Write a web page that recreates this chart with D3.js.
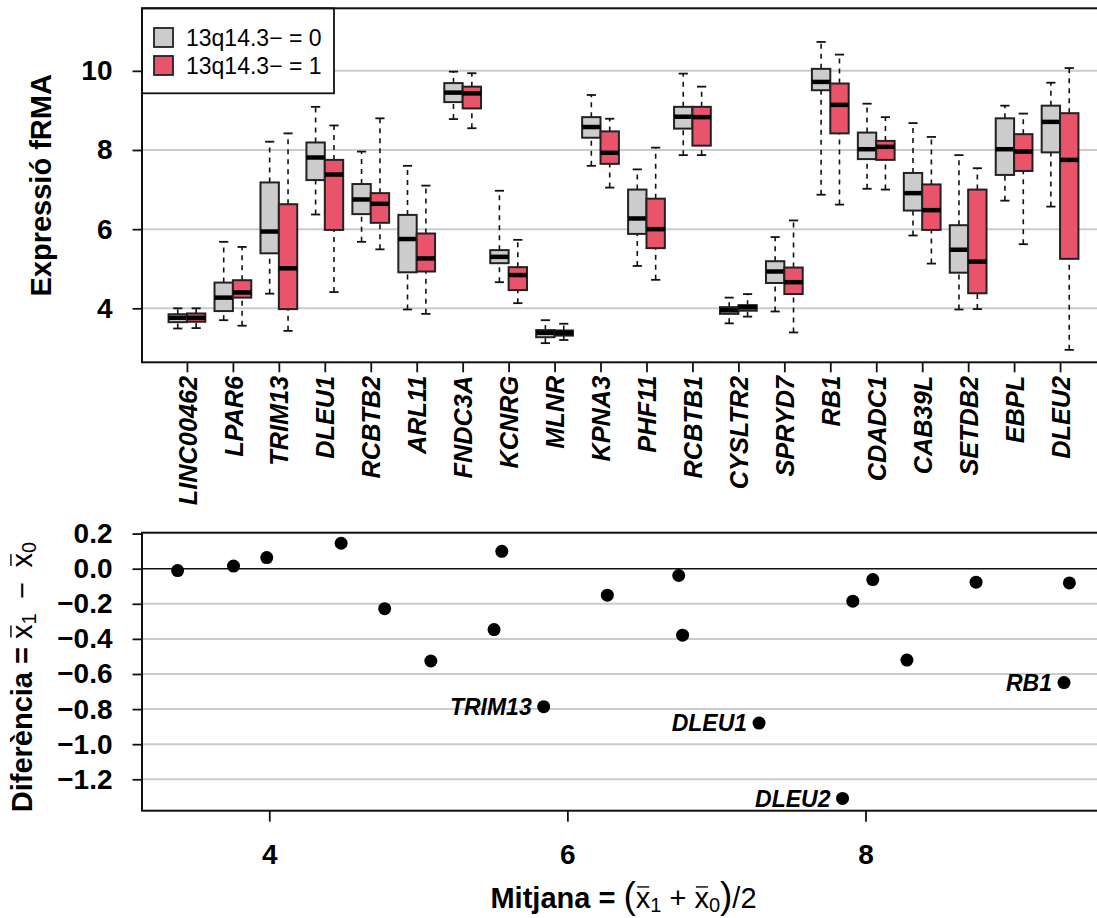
<!DOCTYPE html>
<html>
<head>
<meta charset="utf-8">
<script src="https://cdn.jsdelivr.net/npm/d3@7"></script>
<style>
  body { margin: 0; background: #fff; }
  svg { display: block; font-family: "Liberation Sans", Arial, Helvetica, sans-serif; }
</style>
</head>
<body>
<svg class="chart"></svg>
<script>
// Chart size matches the browser window
const width = 1097;
const height = 918;

// Genes in plotting order
const genes = ["LINC00462", "LPAR6", "TRIM13", "DLEU1", "RCBTB2", "ARL11", "FNDC3A", "KCNRG", "MLNR", "KPNA3",
  "PHF11", "RCBTB1", "CYSLTR2", "SPRYD7", "RB1", "CDADC1", "CAB39L", "SETDB2", "EBPL", "DLEU2"];

// Box stats per gene: [lower whisker, q1, median, q3, upper whisker]
const stats0 = [
  [3.49, 3.65, 3.76, 3.85, 4.00], [3.70, 3.93, 4.27, 4.65, 5.68], [4.37, 5.39, 5.94, 7.18, 8.21],
  [6.37, 7.24, 7.81, 8.19, 9.09], [5.68, 6.38, 6.75, 7.14, 7.96], [3.97, 4.91, 5.75, 6.36, 7.60],
  [8.78, 9.21, 9.45, 9.69, 9.98], [4.66, 5.14, 5.30, 5.47, 6.97], [3.12, 3.27, 3.38, 3.45, 3.70],
  [7.60, 8.31, 8.58, 8.83, 9.39], [5.07, 5.88, 6.27, 7.00, 7.51], [7.87, 8.54, 8.84, 9.09, 9.93],
  [3.62, 3.86, 3.95, 4.03, 4.27], [3.92, 4.64, 4.93, 5.19, 5.80], [6.87, 9.51, 9.72, 10.05, 10.73],
  [7.02, 7.77, 8.02, 8.44, 9.17], [5.84, 6.47, 6.91, 7.42, 8.68], [3.97, 4.90, 5.48, 6.10, 7.87],
  [6.72, 7.37, 8.02, 8.80, 9.12], [6.57, 7.94, 8.71, 9.12, 9.70]
];
const stats1 = [
  [3.50, 3.66, 3.76, 3.87, 4.00], [3.56, 4.27, 4.40, 4.71, 5.55], [3.43, 3.98, 5.01, 6.63, 8.42],
  [4.41, 5.98, 7.38, 7.75, 8.62], [5.49, 6.16, 6.64, 6.91, 8.80], [3.86, 4.93, 5.26, 5.89, 7.10],
  [8.55, 9.05, 9.43, 9.60, 9.94], [4.13, 4.46, 4.84, 5.04, 5.73], [3.20, 3.31, 3.38, 3.44, 3.61],
  [7.05, 7.65, 7.93, 8.47, 8.79], [4.72, 5.52, 6.00, 6.77, 8.06], [7.87, 8.11, 8.83, 9.09, 9.60],
  [3.79, 3.94, 4.03, 4.08, 4.36], [3.39, 4.36, 4.66, 5.03, 6.22], [6.62, 8.42, 9.14, 9.68, 10.41],
  [7.00, 7.75, 8.08, 8.23, 8.83], [5.13, 5.98, 6.48, 7.13, 8.33], [3.98, 4.38, 5.18, 7.00, 7.54],
  [5.62, 7.47, 7.96, 8.40, 8.92], [2.95, 5.25, 7.75, 8.93, 10.07]
];

// Legend
const groupLabels = ["13q14.3\u2212 = 0", "13q14.3\u2212 = 1"];
const groupColors = ["#cccccc", "#e9546b"];

// Mean-difference panel, same gene order
const meanVals = [3.760, 4.482, 5.841, 7.286, 6.747, 5.560, 9.368, 5.084, 3.385, 8.278,
  6.268, 8.742, 3.983, 4.774, 9.332, 8.049, 6.773, 5.508, 7.915, 7.846];
const diffVals = [0.015, 0.145, -0.786, -0.880, -0.039, 0.099, -0.081, -0.526, -0.011, -0.521,
  -0.151, -0.077, 0.063, -0.228, -0.649, -0.062, -0.379, -0.347, -0.185, -1.309];
const labelledGenes = ["TRIM13", "DLEU1", "RB1", "DLEU2"];

// Ticks
const topYTicks = [4, 6, 8, 10];
const botYTicks = [0.2, 0, -0.2, -0.4, -0.6, -0.8, -1.0, -1.2];
const botXTicks = [4, 6, 8];

// Panel boxes (right edge runs past the picture, as in the original)
const boxPanel = { left: 142, right: 1105, top: 8.3, bottom: 362.3 };
const mdPanel = { left: 142, right: 1105, top: 532.7, bottom: 810.7 };

const tickFont = 28;
const titleFont = 29;
const geneFont = 25.3;
const labelFont = 23;

const svg = d3.select(".chart")
  .attr("width", width)
  .attr("height", height);

// Scales
const xGene = d3.scaleLinear().domain([0.022, 20.978]).range([boxPanel.left, boxPanel.right]);
const yTop = d3.scaleLinear().domain([2.636, 11.58]).range([boxPanel.bottom, boxPanel.top]);
const xMean = d3.scaleLinear().domain([3.146, 9.607]).range([mdPanel.left, mdPanel.right]);
const yDiff = d3.scaleLinear().domain([-1.379, 0.205]).range([mdPanel.bottom, mdPanel.top]);

// ---------- Top panel: boxplots ----------
const gTop = svg.append("g");

// grid lines
gTop.selectAll(".grid").data(topYTicks).enter().append("line")
  .attr("x1", boxPanel.left).attr("x2", boxPanel.right)
  .attr("y1", d => yTop(d)).attr("y2", d => yTop(d))
  .attr("stroke", "#cccccc").attr("stroke-width", 2);

function drawBoxes(stats, groupIndex) {
  const offset = groupIndex === 0 ? -0.2 : 0.2;
  const halfW = xGene(0.2) - xGene(0);
  const boxes = gTop.selectAll(".box" + groupIndex)
    .data(stats)
    .enter().append("g");

  boxes.each(function (s, i) {
    const g = d3.select(this);
    const cx = xGene(i + 1 + offset);
    // dashed whiskers
    g.append("line").attr("x1", cx).attr("x2", cx).attr("y1", yTop(s[0])).attr("y2", yTop(s[1]))
      .attr("stroke", "#111").attr("stroke-width", 1.6).attr("stroke-dasharray", "5,5");
    g.append("line").attr("x1", cx).attr("x2", cx).attr("y1", yTop(s[3])).attr("y2", yTop(s[4]))
      .attr("stroke", "#111").attr("stroke-width", 1.6).attr("stroke-dasharray", "5,5");
    // staples
    [s[0], s[4]].forEach(v => {
      g.append("line").attr("x1", cx - halfW / 2).attr("x2", cx + halfW / 2)
        .attr("y1", yTop(v)).attr("y2", yTop(v))
        .attr("stroke", "#111").attr("stroke-width", 1.8);
    });
    // box
    g.append("rect")
      .attr("x", cx - halfW).attr("width", halfW * 2)
      .attr("y", yTop(s[3])).attr("height", yTop(s[1]) - yTop(s[3]))
      .attr("fill", groupColors[groupIndex])
      .attr("stroke", "#222").attr("stroke-width", 2);
    // median
    g.append("line").attr("x1", cx - halfW).attr("x2", cx + halfW)
      .attr("y1", yTop(s[2])).attr("y2", yTop(s[2]))
      .attr("stroke", "#000").attr("stroke-width", 4.5);
  });
}
drawBoxes(stats0, 0);
drawBoxes(stats1, 1);

// y axis
const yAxisTop = gTop.append("g")
  .attr("transform", `translate(${boxPanel.left},0)`)
  .call(d3.axisLeft(yTop).tickValues(topYTicks).tickSize(9.5).tickPadding(20).tickFormat(d3.format("d")));

// x axis with gene names
const xAxisTop = gTop.append("g")
  .attr("transform", `translate(0,${boxPanel.bottom})`)
  .call(d3.axisBottom(xGene).tickValues(d3.range(1, genes.length + 1)).tickSize(10).tickFormat(d => genes[d - 1]));

// legend
const legend = gTop.append("g");
legend.append("rect")
  .attr("x", boxPanel.left).attr("y", boxPanel.top)
  .attr("width", 192).attr("height", 85)
  .attr("fill", "#fff").attr("stroke", "#111").attr("stroke-width", 1.8);
groupLabels.forEach((lab, i) => {
  legend.append("rect")
    .attr("x", 154).attr("y", 28 + i * 28).attr("width", 19).attr("height", 19)
    .attr("fill", groupColors[i]).attr("stroke", "#222").attr("stroke-width", 1.8);
  legend.append("text")
    .attr("x", 186).attr("y", 37.5 + i * 28).attr("dy", "0.36em")
    .attr("font-size", labelFont)
    .text(lab);
});

// frame
gTop.append("rect")
  .attr("x", boxPanel.left).attr("y", boxPanel.top)
  .attr("width", boxPanel.right - boxPanel.left).attr("height", boxPanel.bottom - boxPanel.top)
  .attr("fill", "none").attr("stroke", "#111").attr("stroke-width", 2);

// y title
gTop.append("text")
  .attr("transform", `translate(51,${(boxPanel.top + boxPanel.bottom) / 2}) rotate(-90)`)
  .attr("text-anchor", "middle")
  .attr("font-size", titleFont).attr("font-weight", "bold")
  .text("Expressió fRMA");

// ---------- Bottom panel: mean-difference ----------
const gBot = svg.append("g");

gBot.selectAll(".grid").data(botYTicks.filter(d => d < 0)).enter().append("line")
  .attr("x1", mdPanel.left).attr("x2", mdPanel.right)
  .attr("y1", d => yDiff(d)).attr("y2", d => yDiff(d))
  .attr("stroke", "#cccccc").attr("stroke-width", 2);

gBot.append("line")
  .attr("x1", mdPanel.left).attr("x2", mdPanel.right)
  .attr("y1", yDiff(0)).attr("y2", yDiff(0))
  .attr("stroke", "#111").attr("stroke-width", 1.6);

gBot.selectAll("circle").data(genes).enter().append("circle")
  .attr("cx", (d, i) => xMean(meanVals[i]))
  .attr("cy", (d, i) => yDiff(diffVals[i]))
  .attr("r", 6.5)
  .attr("fill", "#000");

genes.forEach((g, i) => {
  if (!labelledGenes.includes(g)) return;
  gBot.append("text")
    .attr("x", xMean(meanVals[i]) - 12)
    .attr("y", yDiff(diffVals[i]))
    .attr("dy", "0.36em")
    .attr("text-anchor", "end")
    .attr("font-size", labelFont).attr("font-weight", "bold").attr("font-style", "italic")
    .text(g);
});

const yAxisBot = gBot.append("g")
  .attr("transform", `translate(${mdPanel.left},0)`)
  .call(d3.axisLeft(yDiff).tickValues(botYTicks).tickSize(9.5).tickPadding(20).tickFormat(d3.format(".1f")));

const xAxisBot = gBot.append("g")
  .attr("transform", `translate(0,${mdPanel.bottom})`)
  .call(d3.axisBottom(xMean).tickValues(botXTicks).tickSize(11).tickPadding(22).tickFormat(d3.format("d")));

gBot.append("rect")
  .attr("x", mdPanel.left).attr("y", mdPanel.top)
  .attr("width", mdPanel.right - mdPanel.left).attr("height", mdPanel.bottom - mdPanel.top)
  .attr("fill", "none").attr("stroke", "#111").attr("stroke-width", 2);

// style all axes the same way
svg.selectAll(".domain").remove();
svg.selectAll(".tick line").attr("stroke", "#111").attr("stroke-width", 1.8);
svg.selectAll(".tick text").attr("fill", "#000").attr("font-weight", "bold")
  .attr("font-family", "Liberation Sans, Arial, sans-serif")
  .attr("font-size", tickFont);

// gene names run upwards, italic
xAxisTop.selectAll("text")
  .attr("transform", "rotate(-90)")
  .attr("x", -13.5).attr("y", 0).attr("dy", "0.36em")
  .attr("text-anchor", "end")
  .attr("font-style", "italic")
  .attr("font-size", geneFont);

// Math-style titles: pieces of text, with overbars drawn over the "x" parts
function mathTitle(parent, transform, pieces) {
  const g = parent.append("g").attr("transform", transform);
  const t = g.append("text").attr("text-anchor", "middle").attr("font-size", titleFont);
  pieces.forEach(p => {
    t.append("tspan")
      .attr("font-weight", p.bold ? "bold" : "normal")
      .attr("font-size", p.size || titleFont)
      .attr("dy", p.dy || 0)
      .attr("class", p.bar ? "bar" : null)
      .text(p.text);
  });
  t.selectAll("tspan.bar").each(function () {
    const b = this.getBBox();
    g.append("line")
      .attr("x1", b.x + 1.5).attr("x2", b.x + b.width - 1.5)
      .attr("y1", b.y + 0.17 * titleFont).attr("y2", b.y + 0.17 * titleFont)
      .attr("stroke", "#000").attr("stroke-width", 1.4);
  });
}

mathTitle(svg, `translate(${(mdPanel.left + mdPanel.right) / 2},908)`, [
  { text: "Mitjana = ", bold: true },
  { text: "(", size: 37 },
  { text: "x", bar: true },
  { text: "1", size: 20, dy: 4 },
  { text: " + ", dy: -4 },
  { text: "x", bar: true },
  { text: "0", size: 20, dy: 4 },
  { text: ")", size: 37, dy: -4 },
  { text: "/2" }
]);

mathTitle(svg, `translate(32,677) rotate(-90)`, [
  { text: "Diferència = ", bold: true },
  { text: "x", bar: true },
  { text: "1", size: 20, dy: 4 },
  { text: "\u2002\u2212\u2002", dy: -4 },
  { text: "x", bar: true },
  { text: "0", size: 20, dy: 4 }
]);
</script>
</body>
</html>
